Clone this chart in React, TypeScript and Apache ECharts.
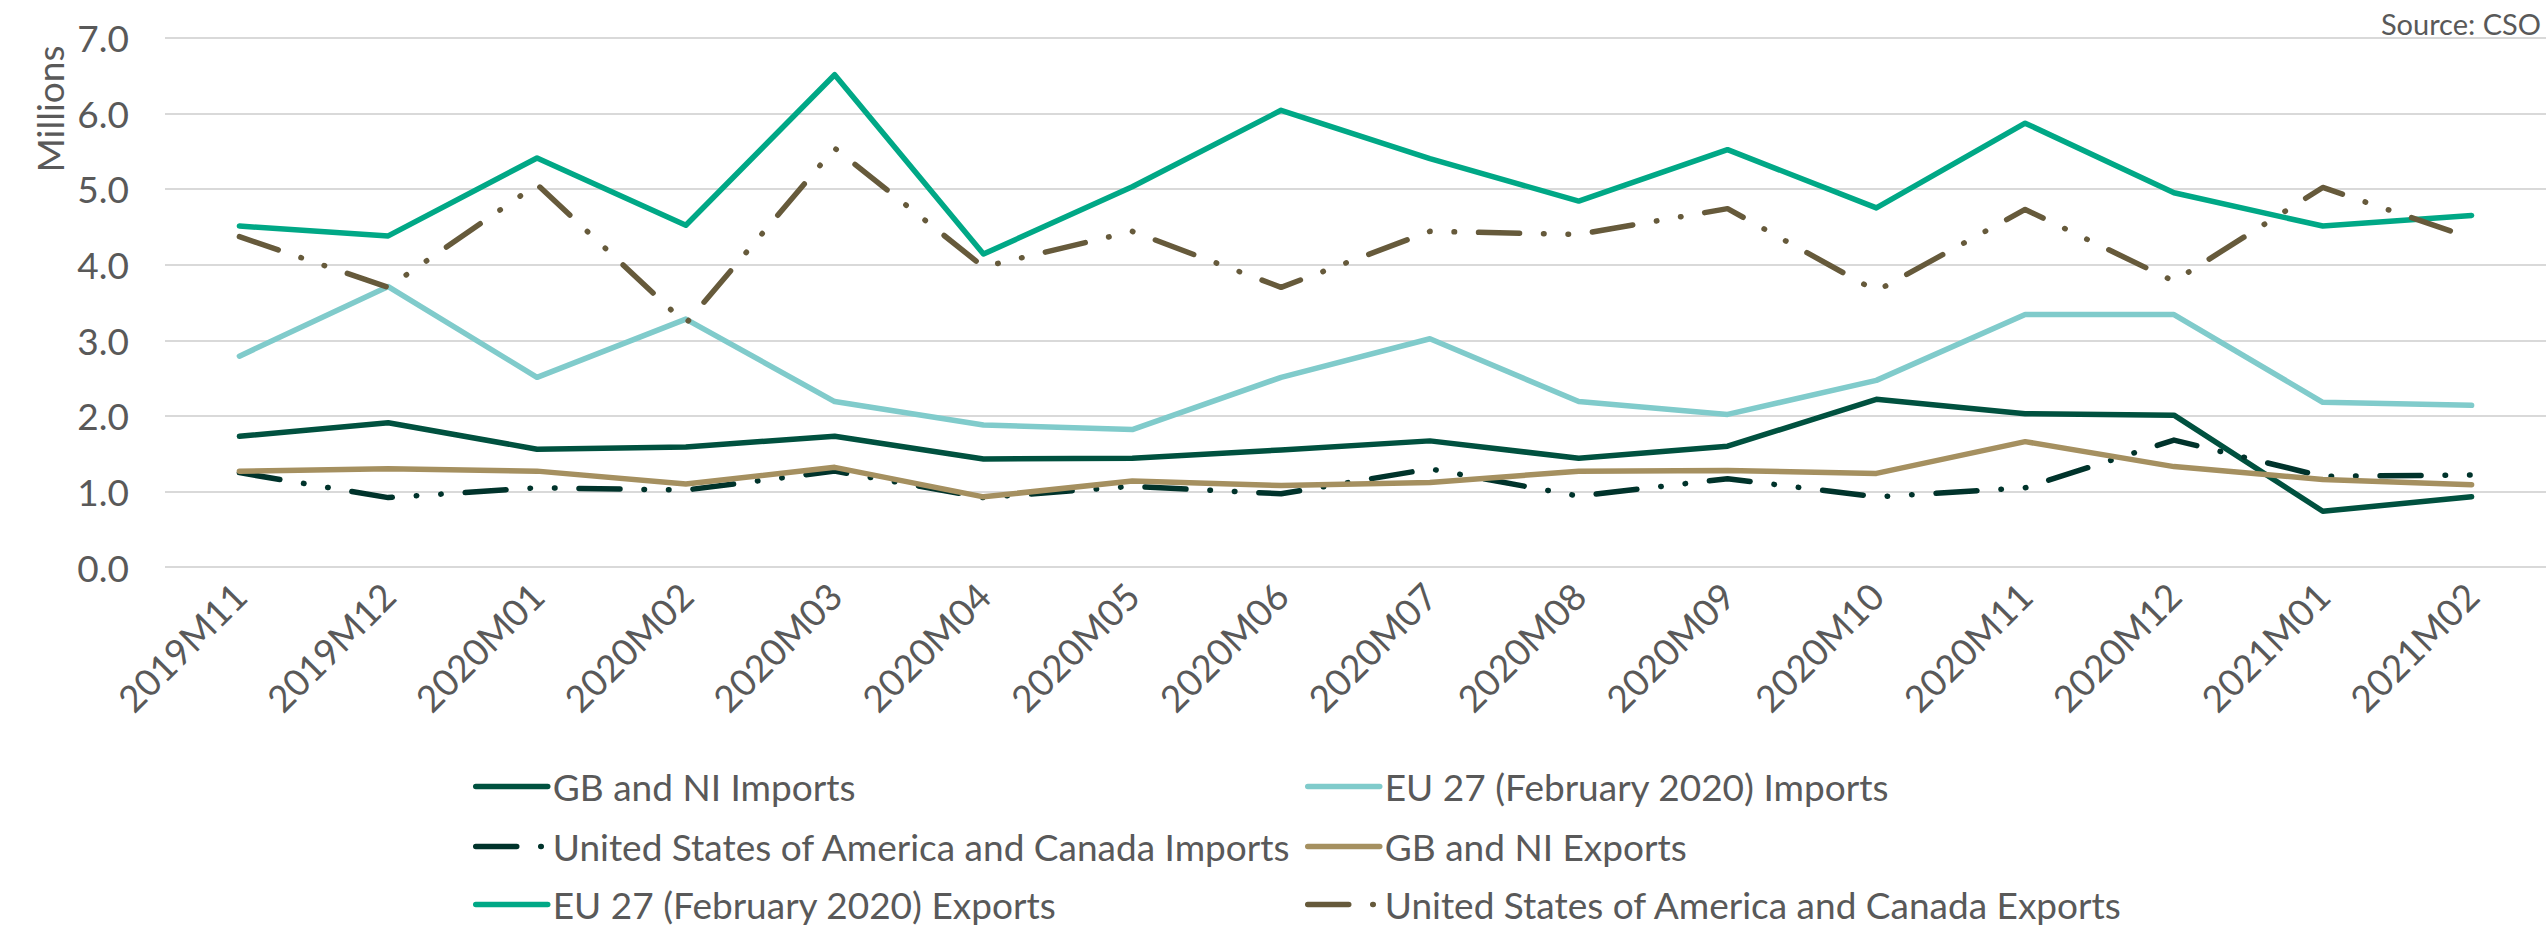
import React, { useEffect, useRef } from "react";
import * as echarts from "echarts";

const categories = [
  "2019M11", "2019M12", "2020M01", "2020M02", "2020M03", "2020M04", "2020M05", "2020M06",
  "2020M07", "2020M08", "2020M09", "2020M10", "2020M11", "2020M12", "2021M01", "2021M02",
];
const gbImports = [1.73, 1.91, 1.56, 1.59, 1.73, 1.43, 1.44, 1.55, 1.67, 1.44, 1.60, 2.22, 2.03, 2.01, 0.74, 0.93];
const euImports = [2.79, 3.71, 2.51, 3.28, 2.19, 1.88, 1.82, 2.51, 3.02, 2.19, 2.02, 2.47, 3.34, 3.34, 2.18, 2.14];
const usImports = [1.25, 0.92, 1.05, 1.02, 1.27, 0.92, 1.07, 0.97, 1.30, 0.94, 1.17, 0.93, 1.05, 1.68, 1.20, 1.22];
const gbExports = [1.27, 1.30, 1.27, 1.10, 1.32, 0.93, 1.14, 1.08, 1.12, 1.27, 1.28, 1.24, 1.66, 1.33, 1.16, 1.09];
const euExports = [4.51, 4.38, 5.41, 4.52, 6.51, 4.14, 5.03, 6.04, 5.40, 4.84, 5.52, 4.75, 5.87, 4.95, 4.51, 4.65];
const usExports = [4.37, 3.70, 5.06, 3.22, 5.54, 3.97, 4.44, 3.70, 4.44, 4.40, 4.74, 3.65, 4.73, 3.78, 5.02, 4.35];

const seriesNames = [
  "GB and NI Imports",
  "EU 27 (February 2020) Imports",
  "United States of America and Canada Imports",
  "GB and NI Exports",
  "EU 27 (February 2020) Exports",
  "United States of America and Canada Exports",
];
const seriesColors = ["#00513f", "#80cbcb", "#00332b", "#a59060", "#00a886", "#665a3b"];
const seriesValues = [gbImports, euImports, usImports, gbExports, euExports, usExports];
const dashed = [false, false, true, false, false, true];

const FONT = "Lato";
const TEXT = "#595959";

export default function App() {
  const ref = useRef<HTMLDivElement>(null);
  useEffect(() => {
    if (!ref.current) return;
    const chart = echarts.init(ref.current, undefined, { renderer: "svg" });
    const dashPattern = [41, 24, 0.5, 24, 0.5, 24];
    const legendPos = [
      { left: 473, top: 768 },
      { left: 1305, top: 768 },
      { left: 473, top: 828 },
      { left: 1305, top: 828 },
      { left: 473, top: 886 },
      { left: 1305, top: 886 },
    ];
    chart.setOption({
      animation: false,
      backgroundColor: "#ffffff",
      grid: { left: 165, right: -27, top: 37.7, bottom: 360.8, containLabel: false },
      xAxis: {
        type: "category",
        data: categories,
        boundaryGap: true,
        axisLine: { show: false },
        axisTick: { show: false },
        axisLabel: { rotate: 45, margin: 22, interval: 0, fontSize: 37, fontFamily: FONT, color: TEXT },
        splitLine: { show: false },
      },
      yAxis: {
        type: "value",
        min: 0,
        max: 7,
        interval: 1,
        axisLine: { show: false },
        axisTick: { show: false },
        axisLabel: {
          margin: 36,
          fontSize: 37,
          fontFamily: FONT,
          color: TEXT,
          formatter: (v: number) => v.toFixed(1),
        },
        splitLine: { lineStyle: { color: "#d9d9d9", width: 2 } },
      },
      legend: seriesNames.map((n, i) => ({
        data: [n],
        left: legendPos[i].left,
        top: legendPos[i].top,
        padding: 0,
        itemWidth: 72,
        itemHeight: 14,
        itemGap: 0,
        itemStyle: { opacity: 0 },
        lineStyle: { width: 5.5, cap: "round" },
        textStyle: { fontSize: 37, lineHeight: 37, fontFamily: FONT, color: TEXT },
      })),
      graphic: [
        {
          type: "text",
          x: 49,
          y: 109,
          rotation: Math.PI / 2,
          style: {
            text: "Millions",
            font: `37px ${FONT}`,
            fill: TEXT,
            align: "center",
            verticalAlign: "middle",
          },
        },
        {
          type: "text",
          x: 2541,
          y: 23,
          style: {
            text: "Source: CSO",
            font: `29px ${FONT}`,
            fill: TEXT,
            align: "right",
            verticalAlign: "middle",
          },
        },
      ],
      series: seriesNames.map((n, i) => ({
        name: n,
        type: "line",
        data: seriesValues[i],
        symbol: "none",
        color: seriesColors[i],
        lineStyle: {
          color: seriesColors[i],
          width: 5.5,
          type: dashed[i] ? dashPattern : "solid",
          cap: "round",
          join: "round",
        },
        z: 2 + i,
      })),
    });
    return () => chart.dispose();
  }, []);
  return <div ref={ref} style={{ position: "absolute", left: 0, top: 0, width: 2546, height: 928 }} />;
}
